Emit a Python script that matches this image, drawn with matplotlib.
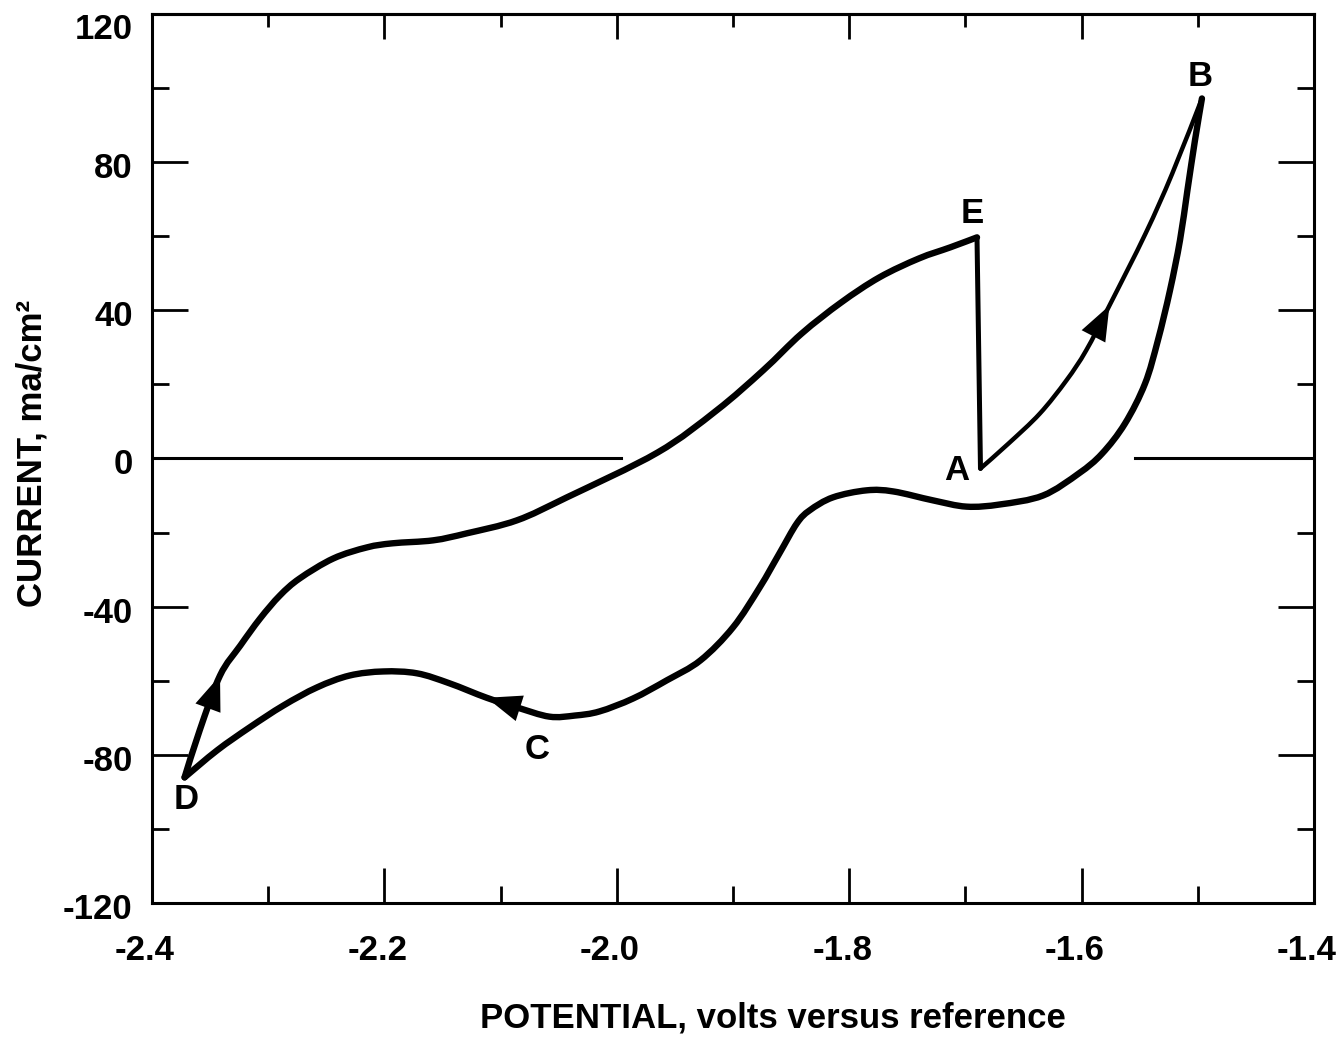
import matplotlib
matplotlib.use("Agg")
import matplotlib.pyplot as plt
from matplotlib.patches import PathPatch
from matplotlib.path import Path
from matplotlib.transforms import ScaledTranslation

# forward sweep A -> B (thin line)
ab_volts = [-1.687, -1.663, -1.636, -1.613, -1.596, -1.576, -1.545, -1.522, -1.4964]
ab_current = [-2.7, 4.0, 12.1, 21.1, 29.2, 41.3, 60.7, 76.9, 97.2]

# return sweep B -> C -> D
bd_volts = [-1.4964, -1.5024, -1.5089, -1.5153, -1.5239, -1.5343, -1.5454, -1.5627,
            -1.5824, -1.6022, -1.6332, -1.670, -1.699, -1.728, -1.762,
            -1.785, -1.814, -1.834, -1.845, -1.860, -1.877, -1.900, -1.928,
            -1.957, -1.986, -2.015, -2.036, -2.058, -2.086, -2.112, -2.144,
            -2.172, -2.201, -2.230, -2.258, -2.287, -2.316, -2.344, -2.372]
bd_current = [97.2, 85.9, 72.4, 58.9, 45.4, 31.9, 20.2, 9.4,
              1.3, -4.0, -10.0, -12.4, -13.0, -11.3, -8.9,
              -8.6, -10.5, -14.0, -17.5, -25.6, -34.8, -45.6, -54.5,
              -59.9, -64.8, -68.3, -69.4, -69.7, -67.2, -64.6, -60.7,
              -58.0, -57.5, -58.6, -61.8, -66.7, -72.6, -78.8, -86.1]

# sweep D -> E
de_volts = [-2.372, -2.359, -2.3415, -2.324, -2.307, -2.290, -2.273, -2.244,
            -2.215, -2.193, -2.158, -2.129, -2.086, -2.043, -1.965,
            -1.914, -1.874, -1.841, -1.807, -1.774, -1.740, -1.713, -1.690]
de_current = [-86.1, -73.4, -58.6, -50.5, -43.2, -37.0, -32.4, -27.0,
              -24.0, -22.9, -22.1, -20.2, -16.7, -10.5, 1.6,
              13.0, 23.8, 33.7, 42.1, 48.9, 54.0, 57.0, 59.7]

# current drop E -> A
ea_volts = [-1.690, -1.687]
ea_current = [59.7, -2.7]

# zero-current reference line pieces
zero_left_volts = [-2.4, -1.996]
zero_right_volts = [-1.554, -1.4]

# point labels
label_names = ["A", "B", "C", "D", "E"]
label_volts = [-1.687, -1.4964, -2.058, -2.372, -1.690]
label_current = [-2.7, 97.2, -69.7, -86.1, 59.7]
label_offsets = [(-17, -1.5), (-1.4, 15.5), (-9, -23.4), (1.4, -16.2), (-3.6, 17.3)]

x_major = [-2.4, -2.2, -2.0, -1.8, -1.6, -1.4]
x_labels = ["-2.4", "-2.2", "-2.0", "-1.8", "-1.6", "-1.4"]
x_minor = [-2.3, -2.1, -1.9, -1.7, -1.5]
y_major = [-120, -80, -40, 0, 40, 80, 120]
y_labels = ["-120", "-80", "-40", "0", "40", "80", "120"]
y_minor = [-100, -60, -20, 20, 60, 100]

FONT = "Liberation Sans"
FS = 25
plt.rcParams["font.family"] = [FONT, "DejaVu Sans"]
plt.rcParams["font.weight"] = "bold"

fig = plt.figure(figsize=(13.42, 10.38), dpi=100)
ax = fig.add_axes([0.1133, 0.1301, 0.8658, 0.8564])


def smooth_curve(xs, ys, lw):
    """Draw a smooth bezier line (Catmull-Rom tangents) through the read points."""
    pts = list(zip(xs, ys))
    n = len(pts)
    verts = [pts[0]]
    codes = [Path.MOVETO]
    for i in range(n - 1):
        p0 = pts[max(i - 1, 0)]
        p1 = pts[i]
        p2 = pts[i + 1]
        p3 = pts[min(i + 2, n - 1)]
        c1 = (p1[0] + (p2[0] - p0[0]) / 6, p1[1] + (p2[1] - p0[1]) / 6)
        c2 = (p2[0] - (p3[0] - p1[0]) / 6, p2[1] - (p3[1] - p1[1]) / 6)
        verts += [c1, c2, p2]
        codes += [Path.CURVE4] * 3
    patch = PathPatch(Path(verts, codes), fill=False, edgecolor="black", lw=lw,
                      capstyle="round", joinstyle="round")
    ax.add_patch(patch)


ax.plot(zero_left_volts, [0, 0], color="black", lw=2.2)
ax.plot(zero_right_volts, [0, 0], color="black", lw=2.2)
smooth_curve(ab_volts, ab_current, 3.2)
smooth_curve(bd_volts, bd_current, 4.6)
smooth_curve(de_volts, de_current, 4.6)
ax.plot(ea_volts, ea_current, color="black", lw=3.6, solid_capstyle="round")


def arrow_head(xs, ys, k):
    ax.annotate("", xy=(xs[k], ys[k]), xytext=(xs[k - 1], ys[k - 1]),
                arrowprops=dict(arrowstyle="-|>,head_length=1.25,head_width=0.48",
                                mutation_scale=20, color="black", lw=0,
                                shrinkA=0, shrinkB=0))


arrow_head(ab_volts, ab_current, 5)
arrow_head(bd_volts, bd_current, 29)
arrow_head(de_volts, de_current, 2)

for name, xv, yv, off in zip(label_names, label_volts, label_current, label_offsets):
    ax.annotate(name, xy=(xv, yv), xytext=off, textcoords="offset points",
                ha="center", va="center", fontsize=FS, fontweight="bold")

ax.set_xlim(-2.4, -1.4)
ax.set_ylim(-120, 120)
ax.set_xticks(x_major)
ax.set_xticklabels(x_labels)
ax.set_xticks(x_minor, minor=True)
ax.set_yticks(y_major)
ax.set_yticklabels(y_labels)
ax.set_yticks(y_minor, minor=True)

ax.tick_params(axis="both", which="both", direction="in", width=2.0, labelsize=FS)
ax.tick_params(axis="y", which="major", length=26, right=True, pad=14)
ax.tick_params(axis="y", which="minor", length=12.5, right=True)
ax.tick_params(axis="x", which="major", length=25, pad=22)
ax.tick_params(axis="x", which="minor", length=12)

# the printed labels sit a little left of / below their ticks
for lab in ax.get_xticklabels():
    lab.set_fontweight("bold")
    lab.set_transform(lab.get_transform() + ScaledTranslation(-0.07, 0, fig.dpi_scale_trans))
for lab, val in zip(ax.get_yticklabels(), y_major):
    lab.set_fontweight("bold")
    dy = -0.12 if val == 120 else -0.03
    lab.set_transform(lab.get_transform() + ScaledTranslation(0, dy, fig.dpi_scale_trans))

top = ax.secondary_xaxis("top")
top.set_xticks(x_major)
top.set_xticks(x_minor, minor=True)
top.tick_params(axis="x", which="major", direction="in", length=18, width=2.0, labeltop=False)
top.tick_params(axis="x", which="minor", direction="in", length=9, width=2.0)
top.spines["top"].set_linewidth(2.2)

for sp in ax.spines.values():
    sp.set_linewidth(2.2)

ax.set_xlabel("POTENTIAL, volts versus reference", fontsize=FS, fontweight="bold")
ax.set_ylabel("CURRENT, ma/cm²", fontsize=FS, fontweight="bold")
ax.xaxis.set_label_coords(0.534, -0.111)
ax.yaxis.set_label_coords(-0.0895, 0.506)

fig.savefig("out.png", dpi=100)
